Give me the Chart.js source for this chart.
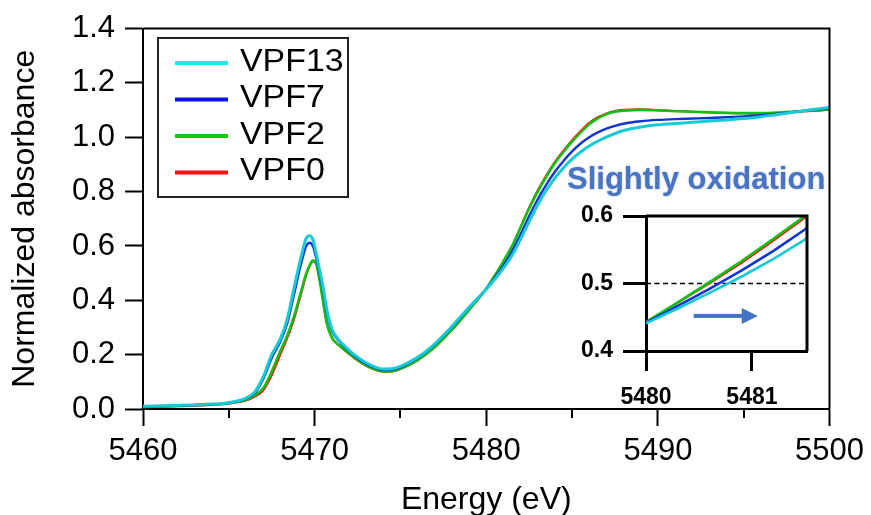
<!DOCTYPE html>
<html>
<head>
<meta charset="utf-8">
<script src="https://cdn.jsdelivr.net/npm/chart.js@4.4.1/dist/chart.umd.min.js"></script>
<style>
  html, body { margin: 0; padding: 0; background: #ffffff; }
  #wrap { position: relative; width: 871px; height: 515px; overflow: hidden; }
  #main { position: absolute; left: 0; top: 0; }
  #inset { position: absolute; left: 560px; top: 150px; }
</style>
</head>
<body>
<div id="wrap">
  <canvas id="main" width="871" height="515"></canvas>
  <canvas id="inset" width="300" height="270"></canvas>
</div>
<script>
// Photon energy grid (eV)
const energies = [5460, 5462, 5464, 5465, 5466, 5466.5, 5467, 5467.5, 5468, 5468.4,
  5468.8, 5469.2, 5469.5, 5469.7, 5469.9, 5470.1, 5470.3, 5470.5, 5470.7, 5471,
  5471.5, 5472, 5472.5, 5473, 5473.5, 5474, 5474.5, 5475, 5476, 5477,
  5478, 5479, 5480, 5480.3, 5480.6, 5480.9, 5481.2, 5481.5, 5482, 5482.5,
  5483, 5483.5, 5484, 5484.5, 5485, 5485.5, 5486, 5486.5, 5487, 5487.5,
  5488, 5489, 5490, 5491, 5492, 5493, 5494, 5495, 5496, 5497,
  5498, 5499, 5500];

// Normalized absorbance per sample
const vpf13 = [0.010, 0.013, 0.018, 0.023, 0.040, 0.062, 0.118, 0.200, 0.258, 0.330,
  0.445, 0.557, 0.627, 0.638, 0.624, 0.570, 0.509, 0.445, 0.370, 0.295,
  0.248, 0.216, 0.191, 0.170, 0.155, 0.147, 0.148, 0.157, 0.190, 0.240,
  0.304, 0.374, 0.441, 0.463, 0.486, 0.510, 0.536, 0.565, 0.625, 0.690,
  0.752, 0.805, 0.850, 0.888, 0.920, 0.946, 0.968, 0.986, 1.001, 1.014,
  1.025, 1.038, 1.046, 1.051, 1.055, 1.060, 1.064, 1.069, 1.076, 1.084,
  1.093, 1.102, 1.110];

const vpf7 = [0.009, 0.012, 0.017, 0.022, 0.038, 0.058, 0.110, 0.188, 0.248, 0.315,
  0.422, 0.532, 0.598, 0.612, 0.600, 0.553, 0.497, 0.432, 0.360, 0.289,
  0.244, 0.212, 0.187, 0.166, 0.152, 0.143, 0.144, 0.153, 0.187, 0.237,
  0.301, 0.372, 0.442, 0.467, 0.492, 0.519, 0.548, 0.580, 0.643, 0.710,
  0.772, 0.826, 0.873, 0.913, 0.948, 0.977, 1.000, 1.018, 1.032, 1.042,
  1.050, 1.059, 1.064, 1.067, 1.069, 1.071, 1.074, 1.077, 1.081, 1.087,
  1.094, 1.101, 1.107];

const vpf2 = [0.008, 0.011, 0.016, 0.021, 0.034, 0.050, 0.076, 0.138, 0.213, 0.270,
  0.342, 0.430, 0.497, 0.528, 0.546, 0.532, 0.470, 0.392, 0.318, 0.263,
  0.231, 0.205, 0.181, 0.161, 0.146, 0.138, 0.139, 0.148, 0.180, 0.228,
  0.292, 0.365, 0.443, 0.472, 0.502, 0.533, 0.566, 0.600, 0.668, 0.738,
  0.800, 0.855, 0.905, 0.946, 0.984, 1.018, 1.048, 1.070, 1.085, 1.094,
  1.098, 1.101, 1.099, 1.096, 1.094, 1.092, 1.090, 1.089, 1.089, 1.091,
  1.095, 1.099, 1.103];

const vpf0 = [0.008, 0.010, 0.015, 0.020, 0.031, 0.045, 0.068, 0.124, 0.200, 0.260,
  0.330, 0.420, 0.490, 0.524, 0.543, 0.535, 0.474, 0.395, 0.320, 0.263,
  0.229, 0.203, 0.179, 0.159, 0.145, 0.137, 0.138, 0.147, 0.179, 0.227,
  0.291, 0.364, 0.443, 0.471, 0.500, 0.530, 0.563, 0.597, 0.670, 0.742,
  0.805, 0.860, 0.910, 0.951, 0.989, 1.023, 1.053, 1.074, 1.088, 1.097,
  1.101, 1.103, 1.100, 1.097, 1.094, 1.091, 1.089, 1.088, 1.087, 1.089,
  1.093, 1.097, 1.101];

const seriesNames = ['VPF13', 'VPF7', 'VPF2', 'VPF0'];
const seriesValues = [vpf13, vpf7, vpf2, vpf0];

// Axis ticks
const xMajorTicks = [5460, 5470, 5480, 5490, 5500];
const xMinorTicks = [5465, 5475, 5485, 5495];
const yTicks = [0, 0.2, 0.4, 0.6, 0.8, 1.0, 1.2, 1.4];

// Zoomed window ticks
const zoomXTicks = [5480, 5481];
const zoomYTicks = [0.4, 0.5, 0.6];
const halfLevel = 0.5;
const zoomLabel = 'Slightly oxidation';

// Styling
const lineColors = ['#18CAD4', '#1234D4', '#12C012', '#FF1010'];
const keyColors = ['#10EEF0', '#0A14E8', '#12C812', '#FF1010'];
const mainWidths = [3, 2.4, 2.6, 2];
const zoomWidths = [2.6, 2.6, 2.6, 1.6];
const FONT = "'Liberation Sans', Arial, Helvetica, sans-serif";
Chart.defaults.font.family = FONT;
Chart.defaults.color = '#000';

function pointsOf(vals) {
  return energies.map((e, i) => ({ x: e, y: vals[i] }));
}

// Frame along top and right of the plotting area
const framePlugin = {
  id: 'frame',
  afterDatasetsDraw(chart, args, opts) {
    const a = chart.chartArea, ctx = chart.ctx;
    ctx.save();
    ctx.strokeStyle = '#000';
    ctx.lineWidth = opts.width || 2;
    ctx.beginPath();
    ctx.moveTo(a.left, a.top);
    ctx.lineTo(a.right, a.top);
    ctx.lineTo(a.right, a.bottom);
    ctx.stroke();
    ctx.restore();
  }
};

// Short ticks between the labelled energies
const minorTickPlugin = {
  id: 'minorTicks',
  afterDraw(chart) {
    const xs = chart.scales.x, ctx = chart.ctx, b = chart.chartArea.bottom;
    ctx.save();
    ctx.strokeStyle = '#000';
    ctx.lineWidth = 2;
    xMinorTicks.forEach(v => {
      const px = Math.round(xs.getPixelForValue(v));
      ctx.beginPath();
      ctx.moveTo(px, b);
      ctx.lineTo(px, b + 9);
      ctx.stroke();
    });
    ctx.restore();
  }
};

// Boxed key in the upper-left corner
const keyPlugin = {
  id: 'boxKey',
  afterDraw(chart) {
    const ctx = chart.ctx;
    const left = 158, top = 38, w = 190, h = 159;
    ctx.save();
    ctx.strokeStyle = '#222';
    ctx.lineWidth = 2;
    ctx.strokeRect(left, top, w, h);
    ctx.font = '32px ' + FONT;
    ctx.textBaseline = 'middle';
    ctx.textAlign = 'left';
    seriesNames.forEach((name, i) => {
      const y = top + 25 + i * 36.5;
      ctx.strokeStyle = keyColors[i];
      ctx.lineWidth = 4;
      ctx.beginPath();
      ctx.moveTo(left + 17, y);
      ctx.lineTo(left + 70, y);
      ctx.stroke();
      ctx.save();
      ctx.translate(left + 82, y - 1);
      ctx.scale(1.06, 1);
      ctx.fillStyle = '#000';
      ctx.fillText(name, 0, 0);
      ctx.restore();
    });
    ctx.restore();
  }
};

new Chart(document.getElementById('main'), {
  type: 'line',
  data: {
    datasets: seriesNames.map((n, i) => ({
      label: n,
      data: pointsOf(seriesValues[i]),
      borderColor: lineColors[i],
      borderWidth: mainWidths[i],
      pointRadius: 0,
      cubicInterpolationMode: 'monotone',
      fill: false
    }))
  },
  options: {
    responsive: false,
    animation: false,
    devicePixelRatio: 1,
    layout: { padding: { top: 27, right: 38, left: 0, bottom: 0 } },
    plugins: { legend: { display: false }, tooltip: { enabled: false }, frame: { width: 2 } },
    scales: {
      x: {
        type: 'linear', min: 5460, max: 5500,
        afterBuildTicks: s => { s.ticks = xMajorTicks.map(v => ({ value: v })); },
        afterFit: s => { s.height = 106; },
        ticks: { font: { size: 31 }, color: '#000', padding: 7, maxRotation: 0, autoSkip: false, callback: v => String(v) },
        grid: { drawOnChartArea: false, tickLength: 17, tickWidth: 2, tickColor: '#000' },
        border: { display: true, color: '#000', width: 2 },
        title: { display: true, text: 'Energy (eV)', color: '#000', font: { size: 32, lineHeight: 1 }, padding: { top: 0, bottom: -1 } }
      },
      y: {
        type: 'linear', min: 0, max: 1.4,
        afterBuildTicks: s => { s.ticks = yTicks.map(v => ({ value: v })); },
        afterFit: s => { s.width = 143; },
        ticks: { font: { size: 31 }, color: '#000', padding: 10, callback: v => Number(v).toFixed(1) },
        grid: { drawOnChartArea: false, tickLength: 18, tickWidth: 2, tickColor: '#000' },
        border: { display: true, color: '#000', width: 2 },
        title: { display: true, text: 'Normalized absorbance', color: '#000', font: { size: 32, lineHeight: 1 }, padding: { top: 9, bottom: 0 } }
      }
    }
  },
  plugins: [framePlugin, minorTickPlugin, keyPlugin]
});

// Arrow marking the edge shift, in data units of the zoomed window
const shiftArrow = { from: 5480.45, to: 5481.055, level: 0.452 };

const insetDecor = {
  id: 'insetDecor',
  afterDraw(chart) {
    const ctx = chart.ctx, xs = chart.scales.x, ys = chart.scales.y;
    // arrow
    const x0 = xs.getPixelForValue(shiftArrow.from);
    const x1 = xs.getPixelForValue(shiftArrow.to);
    const y = ys.getPixelForValue(shiftArrow.level);
    ctx.save();
    ctx.fillStyle = '#4472C4';
    ctx.fillRect(x0, y - 2, (x1 - 15) - x0, 4);
    ctx.beginPath();
    ctx.moveTo(x1, y);
    ctx.lineTo(x1 - 16, y - 8);
    ctx.lineTo(x1 - 16, y + 8);
    ctx.closePath();
    ctx.fill();
    // heading above the window
    ctx.font = 'bold 31px ' + FONT;
    ctx.textAlign = 'left';
    ctx.textBaseline = 'middle';
    ctx.shadowColor = 'rgba(68,114,196,0.55)';
    ctx.shadowBlur = 2;
    ctx.fillStyle = '#4A74C2';
    ctx.fillText(zoomLabel, 7, 30);
    ctx.restore();
  }
};

const zoomSets = seriesNames.map((n, i) => ({
  label: n,
  data: pointsOf(seriesValues[i]),
  borderColor: lineColors[i],
  borderWidth: zoomWidths[i],
  pointRadius: 0,
  tension: 0,
  fill: false
}));
zoomSets.push({
  label: 'half',
  data: [{ x: 5480, y: halfLevel }, { x: 5481.52, y: halfLevel }],
  borderColor: '#000',
  borderWidth: 1.5,
  borderDash: [5, 3.5],
  pointRadius: 0,
  fill: false,
  order: 10
});

new Chart(document.getElementById('inset'), {
  type: 'line',
  data: { datasets: zoomSets },
  options: {
    responsive: false,
    animation: false,
    devicePixelRatio: 1,
    layout: { padding: { top: 66, right: 53, left: 0, bottom: 0 } },
    plugins: { legend: { display: false }, tooltip: { enabled: false }, frame: { width: 3 } },
    scales: {
      x: {
        type: 'linear', min: 5480, max: 5481.52,
        afterBuildTicks: s => { s.ticks = zoomXTicks.map(v => ({ value: v })); },
        afterFit: s => { s.height = 69; },
        ticks: { font: { size: 23, weight: 'bold' }, color: '#000', padding: 13, maxRotation: 0, autoSkip: false, callback: v => String(v) },
        grid: { drawOnChartArea: false, tickLength: 20, tickWidth: 3, tickColor: '#000' },
        border: { display: true, color: '#000', width: 3 }
      },
      y: {
        type: 'linear', min: 0.4, max: 0.6,
        afterBuildTicks: s => { s.ticks = zoomYTicks.map(v => ({ value: v })); },
        afterFit: s => { s.width = 86; },
        ticks: { font: { size: 23, weight: 'bold' }, color: '#000', padding: 10, callback: v => Number(v).toFixed(1) },
        grid: { drawOnChartArea: false, tickLength: 23, tickWidth: 3, tickColor: '#000' },
        border: { display: true, color: '#000', width: 3 }
      }
    }
  },
  plugins: [framePlugin, insetDecor]
});
</script>
</body>
</html>
